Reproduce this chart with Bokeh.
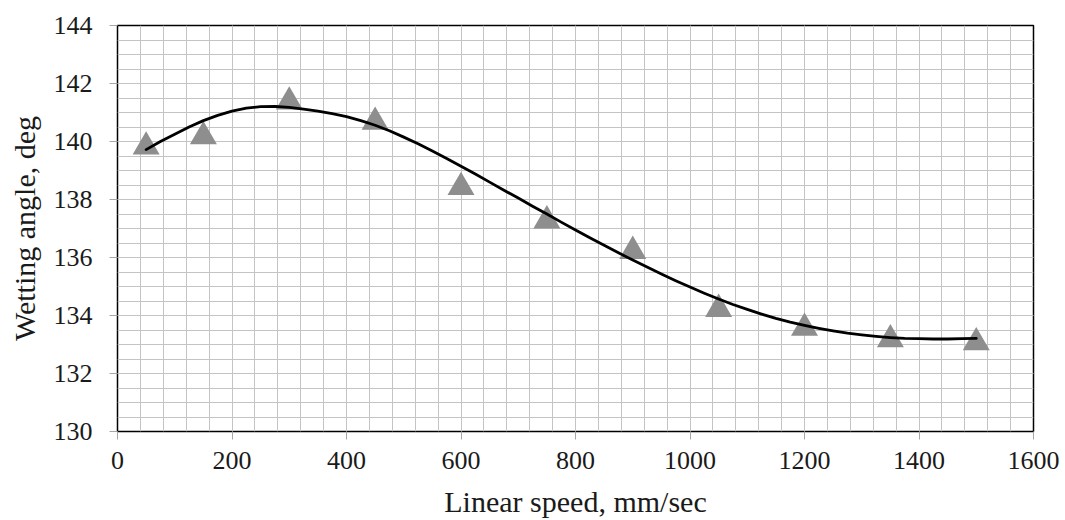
from bokeh.plotting import figure
from bokeh.models import Range1d, SingleIntervalTicker, ColumnDataSource
from bokeh.transform import dodge
from bokeh.embed import file_html
from bokeh.resources import INLINE

# Measured points
speed = [50, 150, 300, 450, 600, 750, 900, 1050, 1200, 1350, 1500]
angle = [139.95, 140.3, 141.5, 140.8, 138.55, 137.4, 136.35, 134.35, 133.7, 133.3, 133.2]

# Trend line
trend_x = [50, 75, 100, 125, 150, 175, 200, 225, 250, 275, 300, 325, 350, 375, 400,
           425, 450, 475, 500, 525, 550, 575, 600, 625, 650, 675, 700, 725, 750, 775,
           800, 825, 850, 875, 900, 925, 950, 975, 1000, 1025, 1050, 1075, 1100, 1125,
           1150, 1175, 1200, 1225, 1250, 1275, 1300, 1325, 1350, 1375, 1400, 1425,
           1450, 1475, 1500]
trend_y = [139.72, 140.0, 140.25, 140.5, 140.72, 140.9, 141.05, 141.15, 141.2, 141.21,
           141.18, 141.12, 141.05, 140.96, 140.86, 140.72, 140.56, 140.37, 140.15, 139.92,
           139.67, 139.41, 139.15, 138.88, 138.6, 138.32, 138.05, 137.77, 137.5, 137.22,
           136.95, 136.68, 136.42, 136.16, 135.91, 135.67, 135.43, 135.2, 134.98, 134.77,
           134.57, 134.38, 134.21, 134.05, 133.9, 133.77, 133.66, 133.56, 133.47, 133.39,
           133.33, 133.28, 133.24, 133.21, 133.2, 133.19, 133.19, 133.2, 133.21]

x_title = "Linear speed, mm/sec"
y_title = "Wetting angle, deg"

FONT = "Liberation Serif"

p = figure(width=1065, height=520, output_backend="svg", toolbar_location=None,
           x_range=Range1d(0, 1600), y_range=Range1d(130, 144),
           min_border_left=117, min_border_right=32, min_border_top=25, min_border_bottom=88)

p.xaxis.ticker = SingleIntervalTicker(interval=200, num_minor_ticks=5)
p.yaxis.ticker = SingleIntervalTicker(interval=2, num_minor_ticks=4)

for g in (p.xgrid, p.ygrid):
    g.grid_line_color = "#c4c4c4"
    g.grid_line_width = 1
    g.minor_grid_line_color = "#c4c4c4"
    g.minor_grid_line_width = 1

p.outline_line_color = "black"
p.outline_line_width = 1.5
p.background_fill_color = "white"
p.border_fill_color = "white"

for ax in (p.xaxis, p.yaxis):
    ax.axis_line_color = None
    ax.major_tick_line_color = "#a6a6a6"
    ax.major_tick_line_width = 1
    ax.major_tick_out = 8
    ax.major_tick_in = 0
    ax.minor_tick_out = 0
    ax.minor_tick_in = 0
    ax.major_label_text_font = FONT
    ax.major_label_text_font_size = "26px"
    ax.major_label_text_color = "#1a1a1a"
    ax.axis_label_text_font = FONT
    ax.axis_label_text_font_size = "30px"
    ax.axis_label_text_font_style = "normal"
    ax.axis_label_text_color = "#1a1a1a"

p.xaxis.axis_label = x_title
p.yaxis.axis_label = y_title
p.xaxis.major_label_standoff = 12
p.xaxis.axis_label_standoff = 13
p.yaxis.major_label_standoff = 17
p.yaxis.axis_label_standoff = 10

pts = ColumnDataSource(data=dict(speed=speed, angle=angle))
# Centre the triangle's bounding box (rather than its centroid) on the value
p.scatter(x="speed", y=dodge("angle", -0.13, range=p.y_range), source=pts,
          marker="triangle", size=27, fill_color="#8e8e8e",
          line_color="#8e8e8e", line_width=0)
p.line(trend_x, trend_y, line_color="black", line_width=2.8, line_join="round",
       line_cap="round")

open("out.html", "w").write(file_html(p, INLINE))
